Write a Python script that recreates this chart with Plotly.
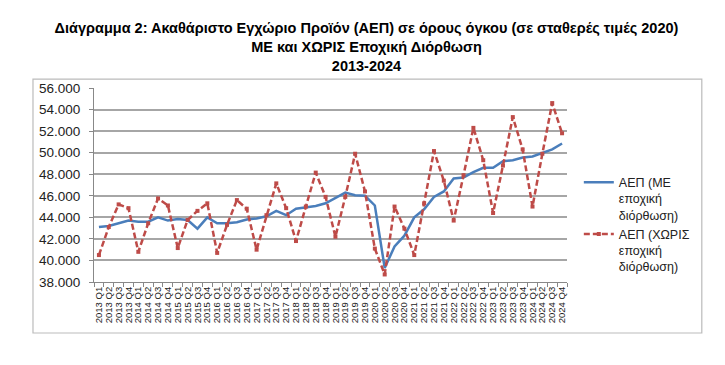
import plotly.graph_objects as go

years = list(range(2013, 2025))
quarters = ["Q1", "Q2", "Q3", "Q4"]
categories = [f"{y} {q}" for y in years for q in quarters]

# ΑΕΠ (ΜΕ εποχική διόρθωση), εκατ. ευρώ
gdp_sa = [43100, 43200, 43450, 43700, 43600, 43600, 44000, 43700,
          43850, 43750, 42950, 44000, 43450, 43450, 43550, 43800,
          43900, 44100, 44600, 44200, 44800, 44900, 45050, 45300,
          45800, 46300, 46050, 46000, 45100, 39300, 41300, 42300,
          44000, 44750, 45900, 46400, 47600, 47700, 48200, 48600,
          48600, 49200, 49300, 49550, 49650, 50000, 50300, 50850]

# ΑΕΠ (ΧΩΡΙΣ εποχική διόρθωση), εκατ. ευρώ
gdp_nsa = [40500, 43100, 45200, 44850, 40800, 43450, 45750, 45100,
           41150, 43750, 44600, 45300, 40700, 43300, 45600, 44800,
           41000, 44200, 47150, 44850, 41800, 45000, 48150, 45900,
           42200, 45900, 49900, 46400, 41100, 38700, 45000, 42950,
           40500, 45300, 50150, 47400, 43700, 47900, 52300, 49300,
           44400, 48800, 53300, 50300, 45000, 49900, 54600, 51800]

yticks = list(range(38000, 56001, 2000))

fig = go.Figure()
fig.add_trace(go.Scatter(
    x=categories, y=gdp_sa, mode="lines",
    name="ΑΕΠ (ΜΕ<br>εποχική<br>διόρθωση)",
    line=dict(color="#4A7EBB", width=2.5),
))
fig.add_trace(go.Scatter(
    x=categories, y=gdp_nsa, mode="lines+markers",
    name="ΑΕΠ (ΧΩΡΙΣ<br>εποχική<br>διόρθωση)",
    line=dict(color="#BE4B48", width=2.5, dash="6px,3px"),
    marker=dict(symbol="square", size=4, color="#BE4B48"),
))

fig.update_layout(
    width=717, height=357,
    paper_bgcolor="white", plot_bgcolor="white",
    margin=dict(l=86, r=158, t=80, b=83),
    separators=",.",
    font=dict(family="Liberation Sans, Arial, sans-serif", color="#222222"),
    title=dict(
        text="<b>Διάγραμμα 2: Ακαθάριστο Εγχώριο Προϊόν (ΑΕΠ) σε όρους όγκου (σε σταθερές τιμές 2020)<br>"
             "ΜΕ και ΧΩΡΙΣ Εποχική Διόρθωση<br>2013-2024</b>",
        x=0.5, xanchor="center", xref="container",
        y=0.929, yanchor="top", yref="container",
        font=dict(size=14.5, color="#000000"),
    ),
    showlegend=True,
    legend=dict(
        x=1.025, y=0.59, xanchor="left", yanchor="top",
        font=dict(size=12.5, color="#222222"),
        valign="top", tracegroupgap=13,
        bgcolor="rgba(0,0,0,0)",
    ),
    shapes=[dict(type="rect", xref="paper", yref="paper",
                 x0=-0.129, x1=1.285, y0=-0.263, y1=1.046,
                 line=dict(color="#BBBBBB", width=1.2), layer="below")],
)

fig.update_xaxes(
    type="category",
    range=[-0.5, len(categories) - 0.5],
    tickmode="array", tickvals=categories, ticktext=categories,
    tickangle=-90,
    tickfont=dict(size=9.5, color="#222222"),
    tickson="boundaries",
    ticks="outside", ticklen=4, tickcolor="#888888",
    showline=True, linecolor="#888888", linewidth=1,
    showgrid=False,
)
fig.update_yaxes(
    range=[38000, 56000],
    tickvals=yticks,
    tickformat=",.0f",
    tickfont=dict(size=13.5, color="#222222"),
    showgrid=True, gridcolor="#A6A6A6", gridwidth=1.5,
    showline=True, linecolor="#888888", linewidth=1,
    ticks="outside", ticklen=4, tickcolor="#888888",
    ticklabelstandoff=6,
    zeroline=False,
)

fig.write_html("out.html")
